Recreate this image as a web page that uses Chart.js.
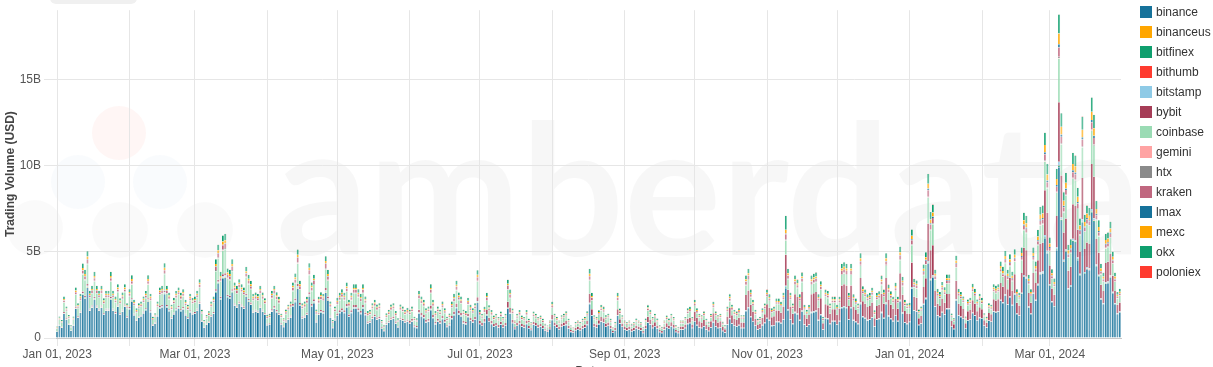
<!DOCTYPE html>
<html>
<head>
<meta charset="utf-8">
<title>Trading Volume by Exchange</title>
<script src="https://cdn.jsdelivr.net/npm/chart.js@4.4.1/dist/chart.umd.min.js"></script>
<style>
  html, body { margin: 0; padding: 0; background: #fff; overflow: hidden; }
  .wrap { position: relative; width: 1213px; height: 380px; }
  .tab-stub { position: absolute; left: 50px; top: -20px; width: 87px; height: 24px; background: #f0f0f0; border-radius: 6px; }
  .legend { position: absolute; left: 1140px; top: 2px; font: 12px 'Liberation Sans', Arial, sans-serif; color: #333; }
  .legend div { height: 20px; display: flex; align-items: center; white-space: nowrap; }
  .legend span { display: inline-block; width: 12px; height: 12px; margin-right: 4px; }
</style>
</head>
<body>
<div class="wrap">
  <canvas id="volumeChart" width="1213" height="380"></canvas>
  <div class="tab-stub"></div>
  <div class="legend" id="legend"></div>
</div>
<script>
// daily volumes, units of 10M USD, Jan 01 2023 .. Mar 31 2024 (one line per month)
const UNIT = 1e7;
const startDay = Date.UTC(2023, 0, 1);
const dayCount = 456;

const binance = [
  35,70,58,139,104,75,41,70,168,116,145,249,226,290,157,174,220,174,157,174,133,157,157,220,157,139,180,133,151,180,116,
  165,212,130,100,118,124,142,159,212,148,71,83,124,171,177,254,177,153,112,136,159,171,153,165,130,112,148,136,
  139,157,197,93,58,75,87,122,139,261,313,220,342,348,232,226,261,186,174,197,180,168,238,209,191,145,151,145,174,151,133,
  73,78,151,168,146,134,78,62,90,106,118,179,207,286,185,112,118,134,241,179,202,90,134,146,140,263,218,118,56,101,
  127,143,154,143,176,121,143,171,171,154,138,171,132,83,88,110,121,105,110,55,39,77,88,105,110,83,61,105,99,88,94,
  83,94,62,57,140,125,114,88,94,161,114,78,94,83,109,88,62,73,109,130,172,135,125,83,78,120,99,88,104,203,
  80,70,90,130,95,80,65,70,60,75,60,70,170,140,85,50,70,80,65,60,80,55,45,75,70,60,65,55,40,35,50,
  103,69,59,49,64,69,74,54,34,29,44,49,44,54,59,74,196,127,64,59,78,93,88,64,69,54,29,44,127,83,64,
  47,42,47,38,42,52,47,42,28,52,89,75,56,66,52,33,28,47,61,52,66,56,33,28,47,47,56,80,85,56,
  95,73,60,56,65,47,39,60,90,65,56,60,39,30,77,108,82,69,65,73,56,56,155,172,120,95,69,47,52,73,86,
  112,100,68,72,92,92,84,104,288,160,104,80,144,136,100,152,76,64,76,144,148,152,100,132,48,112,108,80,96,96,
  76,96,172,176,172,104,172,100,92,80,196,120,112,100,104,116,64,104,108,144,112,196,124,108,96,128,96,212,140,88,80,
  92,285,156,152,74,83,193,225,432,331,350,179,129,120,147,133,166,166,64,51,216,129,120,110,55,101,106,143,129,101,115,
  113,69,59,98,93,152,147,152,216,201,245,191,235,186,250,137,127,255,353,343,176,137,255,216,304,368,372,578,490,
  302,207,180,509,990,678,440,498,281,297,557,551,451,360,668,371,398,392,726,673,413,355,223,196,313,318,350,260,196,138,148
];
const binanceus = [
  1,1,1,1,1,1,1,1,1,1,1,2,2,2,1,1,2,1,1,1,1,1,1,2,1,1,1,1,1,1,1,
  1,2,1,1,1,1,1,1,2,1,1,1,1,1,1,2,1,1,1,1,1,1,1,1,1,1,1,1,
  1,1,1,1,1,1,1,1,1,2,2,2,2,2,2,2,2,1,1,1,1,1,2,2,1,1,1,1,1,1,1,
  1,1,1,1,1,1,1,1,1,1,1,1,2,2,1,1,1,1,2,1,2,1,1,1,1,2,2,1,1,1,
  1,1,1,1,1,1,1,1,1,1,1,1,1,1,1,1,1,1,1,1,1,1,1,1,1,1,1,1,1,1,1,
  1,1,1,1,1,1,1,1,1,1,1,1,1,1,1,1,1,1,1,1,1,1,1,1,1,1,1,1,1,1,
  0,0,0,0,0,0,0,0,0,0,0,0,0,0,0,0,0,0,0,0,0,0,0,0,0,0,0,0,0,0,0,
  0,0,0,0,0,0,0,0,0,0,0,0,0,0,0,0,0,0,0,0,0,0,0,0,0,0,0,0,0,0,0,
  0,0,0,0,0,0,0,0,0,0,0,0,0,0,0,0,0,0,0,0,0,0,0,0,0,0,0,0,0,0,
  0,0,0,0,0,0,0,0,0,0,0,0,0,0,0,0,0,0,0,0,0,0,0,0,0,0,0,0,0,0,0,
  0,0,0,0,0,0,0,0,0,0,0,0,0,0,0,0,0,0,0,0,0,0,0,0,0,0,0,0,0,0,
  0,0,0,0,0,0,0,0,0,0,0,0,0,0,0,0,0,0,0,0,0,0,0,0,0,0,0,0,0,0,0,
  0,0,0,0,0,0,0,0,0,0,0,0,0,0,0,0,0,0,0,0,0,0,0,0,0,0,0,0,0,0,0,
  0,0,0,0,0,0,0,0,0,0,0,0,0,0,0,0,0,0,0,0,0,0,0,0,0,0,0,0,0,
  0,0,0,0,0,0,0,0,0,0,0,0,0,0,0,0,0,0,0,0,0,0,0,0,0,0,0,0,0,0,0
];
const bitfinex = [
  1,1,1,1,1,1,1,1,2,1,2,3,3,4,2,2,3,2,2,2,1,2,2,3,2,1,2,1,2,2,1,
  2,3,1,1,1,1,1,2,3,2,1,1,1,2,2,3,2,2,1,1,2,2,2,2,1,1,2,1,
  1,2,2,1,1,1,1,1,1,4,4,3,5,5,3,3,4,2,2,2,2,2,3,3,2,2,2,2,2,2,1,
  1,1,2,2,2,1,1,1,1,1,1,2,3,4,2,1,1,1,3,2,3,1,1,2,2,4,3,1,1,1,
  1,2,2,2,2,1,2,2,2,2,2,2,1,1,1,1,1,1,1,1,1,1,1,1,1,1,1,1,1,1,1,
  1,1,1,1,2,1,1,1,1,2,1,1,1,1,1,1,1,1,1,2,2,2,1,1,1,1,1,1,1,3,
  1,1,1,2,1,1,1,1,1,1,1,1,2,2,1,1,1,1,1,1,1,1,1,1,1,1,1,1,1,1,1,
  1,1,1,1,1,1,1,1,1,1,1,1,1,1,1,1,3,2,1,1,1,1,1,1,1,1,1,1,2,1,1,
  1,1,1,1,1,1,1,1,1,1,1,1,1,1,1,1,1,1,1,1,1,1,1,1,1,1,1,1,1,1,
  1,1,1,1,1,1,1,1,1,1,1,1,1,1,1,2,1,1,1,1,1,1,3,3,2,1,1,1,1,1,1,
  2,2,1,1,1,1,1,2,6,3,2,1,3,2,2,3,1,1,1,3,3,3,2,2,1,2,2,1,1,1,
  1,1,3,3,3,2,3,2,1,1,4,2,2,2,2,2,1,2,2,3,2,4,2,2,1,2,1,4,3,1,1,
  1,3,2,2,1,1,2,3,5,4,4,2,2,2,2,2,2,2,1,1,3,2,2,1,1,1,1,2,2,1,2,
  1,1,1,1,1,2,2,2,2,2,3,2,3,2,3,2,2,3,4,4,2,2,3,2,3,4,4,6,5,
  3,2,2,5,10,7,4,5,3,3,6,5,5,4,7,4,4,4,7,7,4,4,2,2,3,3,4,3,2,2,2
];
const bithumb = [
  1,1,1,1,1,1,1,1,1,1,1,1,1,1,1,1,1,1,1,1,1,1,1,1,1,1,1,1,1,1,1,
  1,1,1,1,1,1,1,1,1,1,1,1,1,1,1,1,1,1,1,1,1,1,1,1,1,1,1,1,
  1,1,1,1,1,1,1,1,1,1,1,1,2,2,1,1,1,1,1,1,1,1,1,1,1,1,1,1,1,1,1,
  1,1,1,1,1,1,1,1,1,1,1,1,1,1,1,1,1,1,1,1,1,1,1,1,1,1,1,1,1,1,
  1,1,1,1,1,1,1,1,1,1,1,1,1,1,1,1,1,1,1,1,1,1,1,1,1,1,1,1,1,1,1,
  1,1,1,1,1,1,1,1,1,1,1,1,1,1,1,1,1,1,1,1,1,1,1,1,1,1,1,1,1,1,
  1,1,1,1,1,1,1,1,1,1,1,1,1,1,1,1,1,1,1,1,1,1,1,1,1,1,1,1,1,1,1,
  1,1,1,1,1,1,1,1,1,1,1,1,1,1,1,1,1,1,1,1,1,1,1,1,1,1,1,1,1,1,1,
  1,1,1,1,1,1,1,1,1,1,1,1,1,1,1,1,1,1,1,1,1,1,1,1,1,1,1,1,1,1,
  1,1,1,1,1,1,1,1,1,1,1,1,1,1,1,1,1,1,1,1,1,1,1,1,1,1,1,1,1,1,1,
  1,1,1,1,1,1,1,1,2,1,1,1,1,1,1,1,1,1,1,1,1,1,1,1,1,1,1,1,1,1,
  1,1,1,1,1,1,1,1,1,1,1,1,1,1,1,1,1,1,1,1,1,1,1,1,1,1,1,1,1,1,1,
  1,2,1,1,1,1,1,1,2,2,2,1,1,1,1,1,1,1,1,1,1,1,1,1,1,1,1,1,1,1,1,
  1,1,1,1,1,1,1,1,1,1,1,1,1,1,1,1,1,1,2,2,1,1,1,1,2,2,2,2,2,
  2,1,1,2,3,2,2,2,1,2,2,2,2,2,2,2,2,2,2,2,2,2,1,1,2,2,2,1,1,1,1
];
const bitstamp = [
  2,2,2,3,3,2,2,2,4,3,4,5,5,6,4,4,5,4,4,4,3,4,4,5,4,3,4,3,4,4,3,
  4,5,3,3,3,3,3,4,5,4,2,2,3,4,4,5,4,4,3,3,4,4,4,4,3,3,4,3,
  3,4,4,3,2,2,3,3,3,6,6,5,7,7,5,5,6,4,4,4,4,4,5,5,4,4,4,4,4,4,3,
  2,2,4,4,4,3,2,2,3,3,3,4,5,6,4,3,3,3,5,4,5,3,3,4,4,6,5,3,2,3,
  3,4,4,4,4,3,4,4,4,4,4,4,3,3,3,3,3,3,3,2,2,2,3,3,3,3,2,3,3,3,3,
  3,3,2,2,4,3,3,3,3,4,3,3,3,3,3,3,2,2,3,4,4,4,3,3,3,3,3,3,3,5,
  2,1,2,3,2,2,1,1,1,2,1,1,3,3,2,1,1,2,1,1,2,1,1,2,1,1,1,1,1,1,1,
  2,1,1,1,1,1,2,1,1,1,1,1,1,1,1,2,4,3,1,1,2,2,2,1,1,1,1,1,3,2,1,
  1,1,1,1,1,1,1,1,1,1,2,2,1,1,1,1,1,1,1,1,1,1,1,1,1,1,1,2,2,1,
  2,2,1,1,2,1,1,1,2,2,1,1,1,1,2,3,2,2,2,2,1,1,4,4,3,2,2,1,1,2,2,
  3,3,2,2,2,2,2,3,7,4,3,2,4,3,3,4,2,2,2,4,4,4,3,3,1,3,3,2,2,2,
  2,2,4,4,4,3,4,3,2,2,5,3,3,3,3,3,2,3,3,4,3,5,3,3,2,3,2,5,4,2,2,
  1,5,2,2,1,1,3,4,8,6,7,3,2,2,2,2,3,3,1,1,4,2,2,1,1,1,1,2,2,1,2,
  1,1,1,1,1,2,2,2,3,3,4,3,4,3,4,2,2,4,6,6,3,2,4,3,5,7,7,11,9,
  5,3,2,9,18,12,7,8,4,5,10,9,8,6,12,6,7,6,13,12,7,6,3,3,5,5,6,4,3,2,2
];
const bybit = [
  1,2,2,5,4,3,1,2,6,4,5,9,8,10,5,6,8,6,5,6,5,5,5,8,5,5,6,5,5,6,4,
  6,7,4,3,4,4,5,5,7,5,2,3,4,6,6,9,6,5,4,5,5,6,5,6,4,4,5,5,
  5,5,7,3,2,3,3,4,5,9,11,8,12,12,8,8,9,6,6,7,6,6,8,7,7,5,5,5,6,5,5,
  4,4,8,9,8,7,4,3,5,6,6,10,11,15,10,6,6,7,13,10,11,5,7,8,8,14,12,6,3,5,
  9,10,11,10,13,9,10,12,12,11,10,12,10,6,6,8,9,8,8,4,3,6,6,8,8,6,4,8,7,6,7,
  10,11,7,7,16,14,13,10,11,19,13,9,11,10,13,10,7,8,13,15,20,16,14,10,9,14,11,10,12,23,
  16,14,18,26,19,16,13,14,12,15,12,14,34,28,17,10,14,16,13,12,16,11,9,15,14,12,13,11,8,7,10,
  27,18,16,13,17,18,20,14,9,8,12,13,12,14,16,20,52,34,17,16,21,25,23,17,18,14,8,12,34,22,17,
  16,14,16,13,14,18,16,14,10,18,30,26,19,22,18,11,10,16,21,18,22,19,11,10,16,16,19,27,29,19,
  53,41,34,31,36,26,22,34,50,36,31,34,22,17,43,60,46,38,36,41,31,31,86,96,67,53,38,26,29,41,48,
  78,70,48,50,64,64,59,73,180,112,73,56,101,95,70,106,53,45,53,101,104,106,70,92,34,78,76,56,67,67,
  55,70,125,128,125,75,125,73,67,58,142,87,81,73,75,84,46,75,78,104,81,142,90,78,70,93,70,154,102,64,58,
  46,143,78,76,37,41,97,113,216,166,175,90,64,60,74,67,83,83,32,25,108,64,60,55,28,51,53,71,64,51,58,
  51,31,26,44,42,68,66,68,97,90,110,86,106,84,112,62,57,114,158,154,79,62,114,97,136,165,167,260,220,
  108,74,65,182,345,243,158,179,101,106,200,198,162,129,239,133,143,141,260,241,148,127,80,70,112,114,125,93,70,49,53
];
const coinbase = [
  14,28,23,55,41,30,16,28,67,46,58,99,90,115,62,69,87,69,62,69,53,62,62,87,62,55,71,53,60,71,46,
  62,79,48,37,44,46,53,59,79,55,26,31,46,64,66,95,66,57,42,51,59,64,57,62,48,42,55,51,
  55,62,78,37,23,30,35,48,55,104,124,87,136,138,92,90,104,74,69,78,71,67,94,83,76,58,60,58,69,60,53,
  30,32,62,69,60,55,32,25,37,44,48,74,85,117,76,46,48,55,99,74,83,37,55,60,58,108,90,48,23,41,
  51,57,62,57,70,48,57,68,68,62,55,68,53,33,35,44,48,42,44,22,15,31,35,42,44,33,24,42,40,35,37,
  37,41,28,25,62,55,51,39,41,71,51,35,41,37,48,39,28,32,48,58,76,60,55,37,35,53,44,39,46,90,
  32,28,36,52,38,32,26,28,24,30,24,28,68,56,34,20,28,32,26,24,32,22,18,30,28,24,26,22,16,14,20,
  40,27,23,19,25,27,29,21,13,11,17,19,17,21,23,29,76,49,25,23,30,36,34,25,27,21,11,17,49,32,25,
  18,16,18,14,16,20,18,16,11,20,34,29,22,25,20,13,11,18,23,20,25,22,13,11,18,18,22,31,32,22,
  33,26,21,20,23,17,14,21,32,23,20,21,14,11,27,38,29,24,23,26,20,20,54,60,42,33,24,17,18,26,30,
  42,38,26,27,35,35,32,39,80,60,39,30,54,51,38,57,29,24,29,54,56,57,38,50,18,42,41,30,36,36,
  27,34,60,62,60,36,60,35,32,28,69,42,39,35,36,41,22,36,38,50,39,69,43,38,34,45,34,74,49,31,28,
  32,99,54,53,26,29,67,78,150,115,122,62,45,42,51,46,58,58,22,18,75,45,42,38,19,35,37,50,45,35,40,
  32,20,17,28,27,43,42,43,62,57,70,55,67,53,71,39,36,73,101,98,50,39,73,62,87,105,106,165,140,
  80,55,48,134,252,179,116,132,74,78,147,146,119,95,176,98,105,104,192,178,109,94,59,52,83,84,92,69,52,36,39
];
const gemini = [
  1,1,1,1,1,1,1,1,1,1,1,2,2,2,1,1,2,1,1,1,1,1,1,2,1,1,1,1,1,1,1,
  1,2,1,1,1,1,1,1,2,1,1,1,1,1,1,2,1,1,1,1,1,1,1,1,1,1,1,1,
  1,1,1,1,1,1,1,1,1,2,2,2,2,2,2,2,2,1,1,1,1,1,2,2,1,1,1,1,1,1,1,
  1,1,1,1,1,1,1,1,1,1,1,1,2,2,1,1,1,1,2,1,2,1,1,1,1,2,2,1,1,1,
  1,1,1,1,1,1,1,1,1,1,1,1,1,1,1,1,1,1,1,1,1,1,1,1,1,1,1,1,1,1,1,
  1,1,1,1,1,1,1,1,1,1,1,1,1,1,1,1,1,1,1,1,1,1,1,1,1,1,1,1,1,2,
  1,1,1,1,1,1,1,1,1,1,1,1,1,1,1,1,1,1,1,1,1,1,1,1,1,1,1,1,1,1,1,
  1,1,1,1,1,1,1,1,1,1,1,1,1,1,1,1,2,1,1,1,1,1,1,1,1,1,1,1,1,1,1,
  1,1,1,1,1,1,1,1,1,1,1,1,1,1,1,1,1,1,1,1,1,1,1,1,1,1,1,1,1,1,
  1,1,1,1,1,1,1,1,1,1,1,1,1,1,1,1,1,1,1,1,1,1,2,2,1,1,1,1,1,1,1,
  1,1,1,1,1,1,1,1,2,2,1,1,2,1,1,2,1,1,1,2,2,2,1,1,1,1,1,1,1,1,
  1,1,2,2,2,1,2,1,1,1,2,1,1,1,1,1,1,1,1,2,1,2,1,1,1,1,1,2,2,1,1,
  1,2,1,1,1,1,2,2,2,2,2,2,1,1,1,1,2,2,1,1,2,1,1,1,1,1,1,1,1,1,1,
  1,1,1,1,1,1,1,1,2,2,2,2,2,2,2,1,1,2,2,2,2,1,2,2,2,2,2,2,2,
  2,2,1,2,3,2,2,2,2,2,2,2,2,2,2,2,2,2,2,2,2,2,2,2,2,2,2,2,2,1,1
];
const htx = [
  1,1,1,2,2,1,1,1,3,2,3,4,4,5,3,3,4,3,3,3,2,3,3,4,3,2,3,2,3,3,2,
  3,4,2,2,2,2,2,3,4,3,1,1,2,3,3,4,3,3,2,2,3,3,3,3,2,2,3,2,
  2,3,3,2,1,1,2,2,2,5,5,4,6,6,4,4,5,3,3,3,3,3,4,4,3,3,3,3,3,3,2,
  1,1,3,3,3,2,1,1,2,2,2,3,4,5,3,2,2,2,4,3,4,2,2,3,3,5,4,2,1,2,
  2,3,3,3,3,2,3,3,3,3,3,3,2,2,2,2,2,2,2,1,1,1,2,2,2,2,1,2,2,2,2,
  2,2,1,1,3,2,2,2,2,3,2,2,2,2,2,2,1,1,2,3,3,3,2,2,2,2,2,2,2,4,
  2,1,2,3,2,2,1,1,1,2,1,1,3,3,2,1,1,2,1,1,2,1,1,2,1,1,1,1,1,1,1,
  2,1,1,1,1,1,2,1,1,1,1,1,1,1,1,2,4,3,1,1,2,2,2,1,1,1,1,1,3,2,1,
  1,1,1,1,1,1,1,1,1,1,2,2,1,1,1,1,1,1,1,1,1,1,1,1,1,1,1,2,2,1,
  2,2,1,1,2,1,1,1,2,2,1,1,1,1,2,3,2,2,2,2,1,1,4,4,3,2,2,1,1,2,2,
  3,3,2,2,2,2,2,3,7,4,3,2,4,3,3,4,2,2,2,4,4,4,3,3,1,3,3,2,2,2,
  2,2,4,4,4,3,4,3,2,2,5,3,3,3,3,3,2,3,3,4,3,5,3,3,2,3,2,5,4,2,2,
  1,3,1,1,1,1,2,2,4,3,4,2,1,1,1,1,2,2,1,1,2,1,1,1,1,1,1,1,1,1,1,
  1,1,1,1,1,1,1,1,2,2,2,2,2,2,2,1,1,2,3,3,2,1,2,2,3,4,4,6,5,
  3,2,1,5,9,6,4,4,2,3,5,5,4,3,6,3,4,3,7,6,4,3,2,2,3,3,3,2,2,1,1
];
const kraken = [
  2,5,4,10,7,5,3,5,12,8,10,17,16,20,11,12,15,12,11,12,9,11,11,15,11,10,12,9,10,12,8,
  11,14,9,7,8,8,10,11,14,10,5,6,8,12,12,17,12,10,8,9,11,12,10,11,9,8,10,9,
  10,11,14,6,4,5,6,8,10,18,22,15,24,24,16,16,18,13,12,14,12,12,16,14,13,10,10,10,12,10,9,
  7,7,14,15,13,12,7,6,8,10,11,16,19,26,17,10,11,12,22,16,18,8,12,13,13,24,20,11,5,9,
  12,13,14,13,16,11,13,16,16,14,13,16,12,8,8,10,11,10,10,5,4,7,8,10,10,8,6,10,9,8,9,
  8,9,6,6,14,12,11,9,9,16,11,8,9,8,11,9,6,7,11,13,17,13,12,8,8,12,10,9,10,20,
  10,8,11,16,11,10,8,8,7,9,7,8,20,17,10,6,8,10,8,7,10,7,5,9,8,7,8,7,5,4,6,
  11,7,6,5,7,7,8,6,4,3,5,5,5,6,6,8,20,13,7,6,8,10,9,7,7,6,3,5,13,9,7,
  5,5,5,4,5,6,5,5,3,6,10,8,6,7,6,4,3,5,7,6,7,6,4,3,5,5,6,9,9,6,
  11,9,7,7,8,6,5,7,11,8,7,7,5,4,9,13,10,8,8,9,7,7,18,20,14,11,8,6,6,9,10,
  11,10,7,7,9,9,8,10,29,16,10,8,14,14,10,15,8,6,8,14,15,15,10,13,5,11,11,8,10,10,
  8,10,17,18,17,10,17,10,9,8,20,12,11,10,10,12,6,10,11,14,11,20,12,11,10,13,10,21,14,9,8,
  8,25,14,13,6,7,17,20,38,29,30,16,11,10,13,12,14,14,6,4,19,11,10,10,5,9,9,12,11,9,10,
  7,4,4,6,6,9,9,9,13,12,15,12,14,11,15,8,8,16,22,21,11,8,16,13,19,23,23,35,30,
  17,12,10,29,54,38,25,28,16,17,32,31,26,20,38,21,23,22,41,38,23,20,13,11,18,18,20,15,11,8,8
];
const lmax = [
  1,1,1,1,1,1,1,1,2,1,2,2,2,3,2,2,2,2,2,2,1,2,2,2,2,1,2,1,2,2,1,
  2,2,1,1,1,1,1,2,2,2,1,1,1,2,2,2,2,2,1,1,2,2,2,2,1,1,2,1,
  1,2,2,1,1,1,1,1,1,3,3,2,3,3,2,2,3,2,2,2,2,2,2,2,2,2,2,2,2,2,1,
  1,1,2,2,2,1,1,1,1,1,1,2,2,3,2,1,1,1,2,2,2,1,1,2,2,3,2,1,1,1,
  1,2,2,2,2,1,2,2,2,2,2,2,1,1,1,1,1,1,1,1,1,1,1,1,1,1,1,1,1,1,1,
  1,1,1,1,2,1,1,1,1,2,1,1,1,1,1,1,1,1,1,2,2,2,1,1,1,1,1,1,1,2,
  1,1,1,2,1,1,1,1,1,1,1,1,2,2,1,1,1,1,1,1,1,1,1,1,1,1,1,1,1,1,1,
  1,1,1,1,1,1,1,1,1,1,1,1,1,1,1,1,2,2,1,1,1,1,1,1,1,1,1,1,2,1,1,
  1,1,1,1,1,1,1,1,1,1,1,1,1,1,1,1,1,1,1,1,1,1,1,1,1,1,1,1,1,1,
  1,1,1,1,1,1,1,1,1,1,1,1,1,1,1,2,1,1,1,1,1,1,2,2,2,1,1,1,1,1,1,
  2,2,1,1,1,1,1,2,4,2,2,1,2,2,2,2,1,1,1,2,2,2,2,2,1,2,2,1,1,1,
  1,1,2,2,2,2,2,2,1,1,3,2,2,2,2,2,1,2,2,2,2,3,2,2,1,2,1,3,2,1,1,
  2,6,3,3,2,2,4,5,9,7,8,4,3,3,3,3,4,4,1,1,5,3,3,2,1,2,2,3,3,2,3,
  2,1,1,2,2,3,3,3,4,4,5,4,5,4,5,3,3,5,7,7,4,3,5,4,6,8,8,12,10,
  6,4,3,10,19,13,8,9,5,6,11,10,9,7,13,7,8,7,14,13,8,7,4,4,6,6,7,5,4,3,3
];
const mexc = [
  2,4,3,7,5,4,2,4,9,6,8,13,12,15,8,9,11,9,8,9,7,8,8,11,8,7,9,7,8,9,6,
  8,11,7,5,6,6,7,8,11,8,4,4,6,9,9,13,9,8,6,7,8,9,8,8,7,6,8,7,
  7,8,10,5,3,4,5,6,7,14,16,11,18,18,12,12,14,10,9,10,9,9,12,11,10,8,8,8,9,8,7,
  4,4,8,9,8,7,4,3,5,6,6,10,11,15,10,6,6,7,13,10,11,5,7,8,8,14,12,6,3,5,
  7,8,8,8,10,7,8,9,9,8,8,9,7,5,5,6,7,6,6,3,2,4,5,6,6,5,3,6,5,5,5,
  5,5,4,3,8,7,7,5,5,9,7,5,5,5,6,5,4,4,6,8,10,8,7,5,5,7,6,5,6,12,
  5,4,5,8,6,5,4,4,4,5,4,4,10,8,5,3,4,5,4,4,5,3,3,5,4,4,4,3,2,2,3,
  6,4,4,3,4,4,5,3,2,2,3,3,3,3,4,5,12,8,4,4,5,6,5,4,4,3,2,3,8,5,4,
  3,3,3,2,3,3,3,3,2,3,6,5,4,4,3,2,2,3,4,3,4,4,2,2,3,3,4,5,5,4,
  7,5,4,4,5,3,3,4,6,5,4,4,3,2,5,8,6,5,5,5,4,4,11,12,8,7,5,3,4,5,6,
  8,8,5,5,7,7,6,8,22,12,8,6,11,10,8,11,6,5,6,11,11,11,8,10,4,8,8,6,7,7,
  6,7,13,13,13,8,13,8,7,6,15,9,8,8,8,9,5,8,8,11,8,15,9,8,7,10,7,16,11,7,6,
  6,19,10,10,5,5,13,15,28,22,23,12,8,8,10,9,11,11,4,3,14,8,8,7,4,7,7,9,8,7,8,
  8,5,4,7,7,11,11,11,15,14,18,14,17,13,18,10,9,18,25,25,13,10,18,15,22,26,27,41,35,
  20,14,12,34,62,45,29,33,19,20,37,36,30,24,44,25,26,26,48,44,27,23,15,13,21,21,23,17,13,9,10
];
const okx = [
  4,7,6,14,11,8,4,7,17,12,15,26,23,30,16,18,23,18,16,18,14,16,16,23,16,14,19,14,16,19,12,
  17,22,13,10,12,13,14,16,22,15,7,8,13,17,18,26,18,16,11,14,16,17,16,17,13,11,15,14,
  14,16,20,10,6,8,9,13,14,27,32,23,35,36,24,23,27,19,18,20,19,17,25,22,20,15,16,15,18,16,14,
  8,8,16,18,16,14,8,7,10,11,13,19,22,31,20,12,13,14,26,19,22,10,14,16,15,28,23,13,6,11,
  16,18,20,18,22,15,18,22,22,20,18,22,17,11,11,14,15,13,14,7,5,10,11,13,14,11,8,13,13,11,12,
  11,13,8,8,19,17,15,12,13,22,15,11,13,11,15,12,8,10,15,18,23,18,17,11,11,16,13,12,14,27,
  11,10,13,18,13,11,9,10,8,11,8,10,24,20,12,7,10,11,9,8,11,8,6,11,10,8,9,8,6,5,7,
  15,10,8,7,9,10,11,8,5,4,6,7,6,8,8,11,28,18,9,8,11,13,13,9,10,8,4,6,18,12,9,
  7,6,7,6,6,8,7,6,4,8,13,11,8,10,8,5,4,7,9,8,10,8,5,4,7,7,8,12,13,8,
  13,10,8,8,9,7,5,8,13,9,8,8,5,4,11,15,11,10,9,10,8,8,22,24,17,13,10,7,7,10,12,
  17,15,10,11,14,14,13,16,80,24,16,12,22,20,15,23,11,10,11,22,22,23,15,20,7,17,16,12,14,14,
  11,14,26,26,26,16,26,15,14,12,29,18,17,15,16,17,10,16,16,22,17,29,19,16,14,19,14,32,21,13,12,
  12,37,20,20,10,11,25,29,56,43,46,23,17,16,19,17,22,22,8,7,28,17,16,14,7,13,14,19,17,13,15,
  14,8,7,12,11,19,18,19,26,25,30,23,29,23,31,17,16,31,43,42,22,17,31,26,37,45,46,71,60,
  34,23,20,58,110,77,50,56,32,34,63,62,51,41,76,42,45,44,82,76,47,40,25,22,35,36,40,29,22,16,17
];
const poloniex = [
  1,1,1,1,1,1,1,1,1,1,1,1,1,1,1,1,1,1,1,1,1,1,1,1,1,1,1,1,1,1,1,
  1,1,1,1,1,1,1,1,1,1,1,1,1,1,1,1,1,1,1,1,1,1,1,1,1,1,1,1,
  1,1,1,1,1,1,1,1,1,1,1,1,1,1,1,1,1,1,1,1,1,1,1,1,1,1,1,1,1,1,1,
  1,1,1,1,1,1,1,1,1,1,1,1,1,1,1,1,1,1,1,1,1,1,1,1,1,1,1,1,1,1,
  1,1,1,1,1,1,1,1,1,1,1,1,1,1,1,1,1,1,1,1,1,1,1,1,1,1,1,1,1,1,1,
  1,1,1,1,1,1,1,1,1,1,1,1,1,1,1,1,1,1,1,1,1,1,1,1,1,1,1,1,1,1,
  1,1,1,1,1,1,1,1,1,1,1,1,1,1,1,1,1,1,1,1,1,1,1,1,1,1,1,1,1,1,1,
  2,1,1,1,1,1,2,1,1,1,1,1,1,1,1,2,2,2,1,1,2,2,2,1,1,1,1,1,2,2,1,
  1,1,1,1,1,1,1,1,1,1,2,2,1,1,1,1,1,1,1,1,1,1,1,1,1,1,1,2,2,1,
  2,2,1,1,2,1,1,1,2,2,1,1,1,1,2,2,2,2,2,2,1,1,2,2,2,2,2,1,1,2,2,
  2,2,2,2,2,2,2,2,2,2,2,2,2,2,2,2,2,2,2,2,2,2,2,2,1,2,2,2,2,2,
  2,2,2,2,2,2,2,2,2,2,2,2,2,2,2,2,2,2,2,2,2,2,2,2,2,2,2,2,2,2,2,
  1,1,1,1,1,1,1,1,2,1,2,1,1,1,1,1,1,1,1,1,1,1,1,1,1,1,1,1,1,1,1,
  1,1,1,1,1,1,1,1,1,1,1,1,1,1,1,1,1,1,1,1,1,1,1,1,1,2,2,2,2,
  1,1,1,2,2,2,2,2,1,1,2,2,2,1,2,1,2,1,2,2,2,1,1,1,1,1,1,1,1,1,1
];

const exchanges = ['binance', 'binanceus', 'bitfinex', 'bithumb', 'bitstamp', 'bybit', 'coinbase',
                   'gemini', 'htx', 'kraken', 'lmax', 'mexc', 'okx', 'poloniex'];
const seriesValues = [binance, binanceus, bitfinex, bithumb, bitstamp, bybit, coinbase,
                      gemini, htx, kraken, lmax, mexc, okx, poloniex];
const palette = ['#16729a', '#ffa600', '#0f9f6e', '#ff3b2f', '#8ecae6',
                 '#a63d57', '#9adbb4', '#ffa3a3', '#8a8a8a', '#c0677f'];
const yTicks = [0, 5e9, 10e9, 15e9];

const monthNames = ['Jan', 'Feb', 'Mar', 'Apr', 'May', 'Jun', 'Jul', 'Aug', 'Sep', 'Oct', 'Nov', 'Dec'];
const labels = [];
const monthStart = [];
const tickText = [];
for (let i = 0; i < dayCount; i++) {
    const d = new Date(startDay + i * 86400000);
    const day = String(d.getUTCDate()).padStart(2, '0');
    const text = monthNames[d.getUTCMonth()] + ' ' + day + ', ' + d.getUTCFullYear();
    labels.push(text);
    monthStart.push(d.getUTCDate() === 1);
    tickText.push(d.getUTCDate() === 1 && d.getUTCMonth() % 2 === 0 ? text : '');
}

function withAlpha(hex, a) {
    const n = parseInt(hex.slice(1), 16);
    return 'rgba(' + (n >> 16) + ',' + ((n >> 8) & 255) + ',' + (n & 255) + ',' + a + ')';
}

const datasets = exchanges.map((name, i) => {
    const c = palette[i % palette.length];
    return {
        label: name,
        data: seriesValues[i].map(v => v * UNIT),
        backgroundColor: withAlpha(c, 0.7),
        borderColor: c,
        borderWidth: { top: 0, right: 0, bottom: 0, left: 1 },
        borderSkipped: false,
        barPercentage: 0.86,
        categoryPercentage: 1.0
    };
});

// faint brand watermark behind the plot
const watermark = {
    id: 'watermark',
    beforeDraw(chart) {
        const ctx = chart.ctx;
        ctx.save();
        ctx.fillStyle = 'rgba(255, 110, 80, 0.06)';
        ctx.beginPath(); ctx.arc(119, 133, 27, 0, Math.PI * 2); ctx.fill();
        ctx.fillStyle = 'rgba(90, 140, 190, 0.035)';
        ctx.beginPath(); ctx.arc(78, 182, 27, 0, Math.PI * 2); ctx.fill();
        ctx.beginPath(); ctx.arc(160, 182, 27, 0, Math.PI * 2); ctx.fill();
        ctx.fillStyle = 'rgba(0, 0, 0, 0.02)';
        ctx.beginPath(); ctx.arc(35, 228, 28, 0, Math.PI * 2); ctx.fill();
        ctx.beginPath(); ctx.arc(120, 230, 28, 0, Math.PI * 2); ctx.fill();
        ctx.beginPath(); ctx.arc(205, 230, 28, 0, Math.PI * 2); ctx.fill();
        ctx.font = 'bold 182px Lato';
        ctx.fillStyle = 'rgba(0, 0, 0, 0.03)';
        ctx.textBaseline = 'alphabetic';
        ctx.fillText('amberdata', 276, 255);
        ctx.restore();
    }
};

Chart.defaults.font.family = "'Liberation Sans', Arial, Helvetica, sans-serif";

new Chart(document.getElementById('volumeChart'), {
    type: 'bar',
    data: { labels: labels, datasets: datasets },
    plugins: [watermark],
    options: {
        responsive: false,
        animation: false,
        events: [],
        layout: { padding: { top: 8, right: 92, left: 0, bottom: 0 } },
        plugins: { legend: { display: false }, tooltip: { enabled: false } },
        scales: {
            x: {
                stacked: true,
                grid: {
                    offset: false,
                    tickLength: 8,
                    color: c => monthStart[c.index] ? '#e6e6e6' : 'rgba(0,0,0,0)'
                },
                border: { color: '#c8c8c8' },
                ticks: {
                    autoSkip: false, maxRotation: 0, minRotation: 0, padding: 1,
                    color: '#555', font: { size: 12 },
                    callback: (v, i) => tickText[i]
                },
                title: {
                    display: true, text: 'Date', color: '#444',
                    font: { size: 12, weight: 'bold' }, padding: { top: 0, bottom: 1 }
                },
                afterFit: s => { s.height = 42; }
            },
            y: {
                stacked: true,
                min: 0,
                max: 19e9,
                afterBuildTicks: s => { s.ticks = yTicks.map(v => ({ value: v })); },
                ticks: {
                    padding: 3, color: '#555', font: { size: 12 },
                    callback: v => v === 0 ? '0' : Math.round(v / 1e9) + 'B'
                },
                grid: { tickLength: 12, color: '#e6e6e6' },
                border: { display: false },
                title: {
                    display: true, text: 'Trading Volume (USD)', color: '#444',
                    font: { size: 12, weight: 'bold' }, padding: { top: 3, bottom: 0 }
                },
                afterFit: s => { s.width = 56; }
            }
        }
    }
});

// legend on the right
const legendEl = document.getElementById('legend');
exchanges.forEach((name, i) => {
    const row = document.createElement('div');
    const box = document.createElement('span');
    box.style.background = palette[i % palette.length];
    row.appendChild(box);
    row.appendChild(document.createTextNode(name));
    legendEl.appendChild(row);
});
</script>
</body>
</html>
